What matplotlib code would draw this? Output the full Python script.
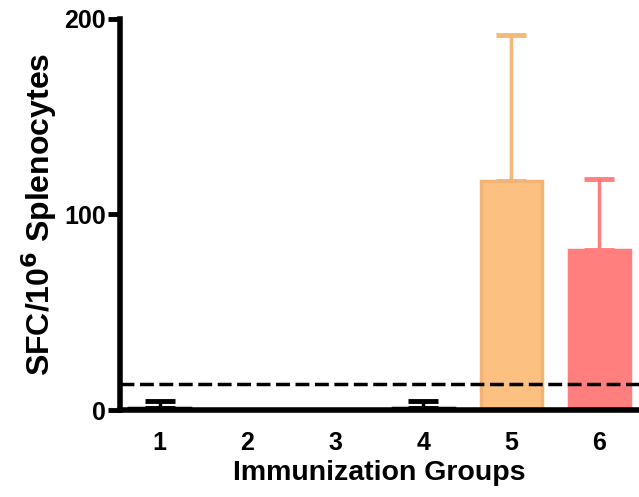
import matplotlib.pyplot as plt

plt.rcParams['font.family'] = ['Liberation Sans', 'DejaVu Sans']
plt.rcParams['font.weight'] = 'bold'

groups = [1, 2, 3, 4, 5, 6]
group_labels = ['1', '2', '3', '4', '5', '6']
means = [1.0, 0.0, 0.0, 1.0, 117.0, 82.0]
errors = [3.5, 0.0, 0.0, 3.5, 75.0, 36.0]
bar_colors = ['white', 'white', 'white', 'white', '#FCC080', '#FF7F7F']
edge_colors = ['black', 'black', 'black', 'black', '#F2B476', '#FF7F7F']
err_colors = ['black', 'black', 'black', 'black', '#F5B77A', '#FF7F7F']
cutoff = 13.3


def main():
    fig = plt.figure(figsize=(6.39, 4.97), dpi=100)
    ax = fig.add_axes([120 / 639, 1 - 410 / 497, 1 - 120 / 639, (410 - 19) / 497])

    for x, m, e, fc, ec, erc in zip(groups, means, errors, bar_colors, edge_colors, err_colors):
        if m > 0:
            ax.bar(x, m, width=0.69, color=fc, edgecolor=ec, linewidth=2.5, zorder=2)
        if e > 0:
            ax.errorbar(x, m, yerr=[[0], [e]], fmt='none', ecolor=erc, elinewidth=2.5,
                        capsize=11, capthick=3.5, zorder=1)

    ax.axhline(cutoff, color='black', linewidth=2.5, linestyle=(0, (4, 1.6)), zorder=3)

    ax.set_xlim(0.55, 6.45)
    ax.set_ylim(0, 200)
    ax.set_yticks([0, 100, 200])
    ax.set_xticks(groups)
    ax.set_xticklabels(group_labels)

    for side in ['top', 'right']:
        ax.spines[side].set_visible(False)
    ax.spines['left'].set_linewidth(4)
    ax.spines['bottom'].set_linewidth(4)
    ax.spines['left'].set_zorder(4)
    ax.spines['bottom'].set_zorder(4)

    ax.tick_params(axis='y', length=9, width=3.5, labelsize=18, pad=1)
    ax.tick_params(axis='x', length=0, labelsize=18, pad=15)

    ax.set_xlabel('Immunization Groups', fontsize=20.5, fontweight='bold', labelpad=4)
    ax.set_ylabel('SFC/10$^{\\mathbf{6}}$ Splenocytes', fontsize=23, fontweight='bold', labelpad=4)

    fig.savefig('out.png', dpi=100)


if __name__ == "__main__":
    main()
